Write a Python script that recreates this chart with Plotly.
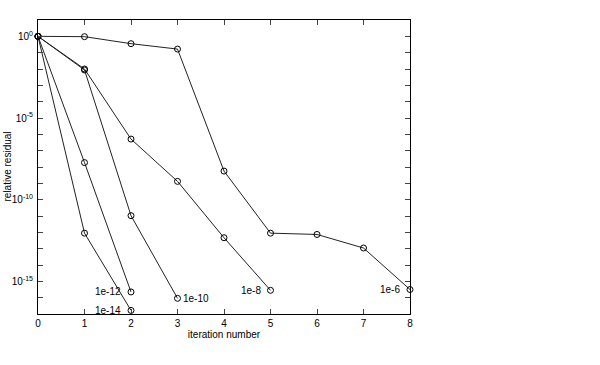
import plotly.graph_objects as go

iterations = [0, 1, 2, 3, 4, 5, 6, 7, 8]
tolerances = ["1e-6", "1e-8", "1e-10", "1e-12", "1e-14"]

# log10 of relative residual per series
log_res_1e6 = [0.0, -0.02, -0.45, -0.78, -8.25, -12.05, -12.13, -12.96, -15.5]
log_res_1e8 = [0.0, -2.0, -6.29, -8.88, -12.33, -15.55]
log_res_1e10 = [0.0, -2.06, -10.98, -16.04]
log_res_1e12 = [0.0, -7.73, -15.65]
log_res_1e14 = [0.0, -12.05, -16.78]

series = [log_res_1e6, log_res_1e8, log_res_1e10, log_res_1e12, log_res_1e14]
label_side = ["left", "left", "right", "left", "left"]

fig = go.Figure()
annotations = []
for name, vals, side in zip(tolerances, series, label_side):
    xs = iterations[:len(vals)]
    ys = [10 ** v for v in vals]
    fig.add_trace(go.Scatter(
        x=xs, y=ys, mode="lines+markers", name=name,
        line=dict(color="#222222", width=1),
        marker=dict(symbol="circle-open", size=6, color="black", line=dict(width=1)),
        showlegend=False, cliponaxis=False,
    ))
    annotations.append(dict(
        x=xs[-1], y=vals[-1], xref="x", yref="y", text=name, showarrow=False,
        xanchor="right" if side == "left" else "left",
        xshift=-8 if side == "left" else 3, yshift=0,
        font=dict(family="Liberation Sans, Arial", size=10, color="black"),
    ))

# y axis title as rotated annotation
annotations.append(dict(
    x=0, y=0.5, xref="paper", yref="paper", text="relative residual",
    showarrow=False, textangle=-90, xanchor="center", yanchor="middle",
    xshift=-31.5, font=dict(family="Liberation Sans, Arial", size=10, color="black"),
))

decades = list(range(-17, 2))
tickvals = [10 ** d for d in decades]
ticktext = [f"10<sup>{d}</sup>" if d % 5 == 0 and d <= 0 else "" for d in decades]

fig.update_layout(
    width=600, height=365,
    margin=dict(l=38, r=190, t=20, b=51),
    paper_bgcolor="white", plot_bgcolor="white",
    font=dict(family="Liberation Sans, Arial", size=10, color="black"),
    annotations=annotations,
    xaxis=dict(
        range=[0, 8], tickvals=iterations, ticks="inside", ticklen=5,
        showline=True, linecolor="black", linewidth=1, mirror="ticks",
        showgrid=False, zeroline=False, automargin=False,
        title=dict(text="iteration number", standoff=2, font=dict(size=10)),
        tickfont=dict(size=10),
    ),
    yaxis=dict(
        type="log", range=[-17, 1], tickvals=tickvals, ticktext=ticktext,
        ticks="inside", ticklen=5, ticklabelstandoff=2,
        showline=True, linecolor="black", linewidth=1, mirror="ticks",
        showgrid=False, zeroline=False, automargin=False,
        tickfont=dict(size=10),
    ),
)

fig.write_html("out.html", config={"displayModeBar": False},
               post_script="document.body.style.margin='0';")
